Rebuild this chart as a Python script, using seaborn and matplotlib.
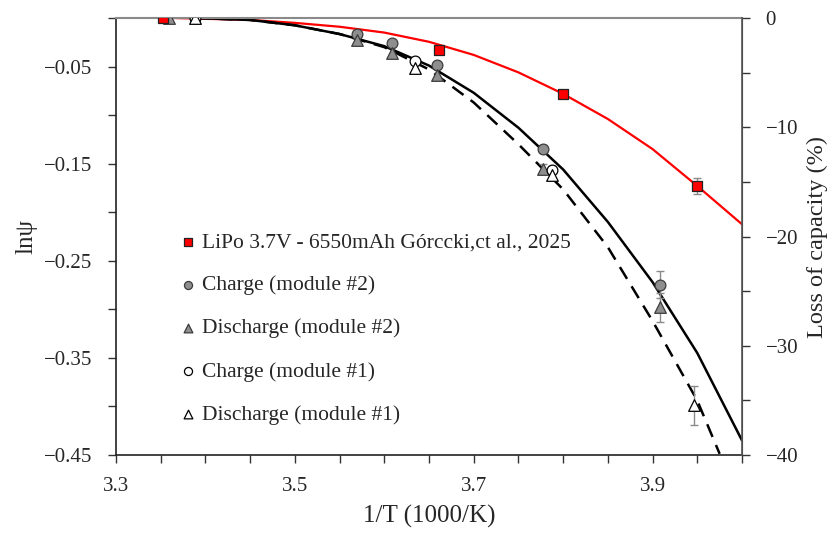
import numpy as np
import pandas as pd
import matplotlib
matplotlib.use("Agg")
import matplotlib.pyplot as plt
import seaborn as sns
from matplotlib.ticker import FixedLocator, FixedFormatter

# ---------------- data ----------------
series_labels = [
    "LiPo 3.7V - 6550mAh Górccki,ct al., 2025",
    "Charge (module #2)",
    "Discharge (module #2)",
    "Charge (module #1)",
    "Discharge (module #1)",
]

lipo_x = [3.353, 3.661, 3.800, 3.950]
lipo_y = [0.0, -0.0333, -0.078, -0.173]
lipo_err = [0.0, 0.0, 0.002, 0.008]

chg2_x = [3.356, 3.569, 3.609, 3.659, 3.778, 3.908]
chg2_y = [0.0, -0.0164, -0.0257, -0.0487, -0.1345, -0.2748]
chg2_err = [0.0, 0.0, 0.0, 0.0, 0.004, 0.014]

dis2_x = [3.359, 3.569, 3.609, 3.659, 3.778, 3.908]
dis2_y = [0.0, -0.023, -0.036, -0.059, -0.155, -0.298]
dis2_err = [0.0, 0.0, 0.0, 0.0, 0.005, 0.015]

chg1_x = [3.388, 3.634, 3.788]
chg1_y = [0.0, -0.0439, -0.156]
chg1_err = [0.0, 0.0, 0.004]

dis1_x = [3.388, 3.634, 3.788, 3.946]
dis1_y = [0.0, -0.0514, -0.162, -0.399]
dis1_err = [0.0, 0.0, 0.005, 0.020]

# fitted curves
fit_solid_x = [3.390, 3.450, 3.500, 3.550, 3.600, 3.650, 3.700, 3.750,
               3.800, 3.850, 3.900, 3.950, 4.000]
fit_solid_y = [0.0, -0.002, -0.0075, -0.0165, -0.029, -0.049, -0.077, -0.113,
               -0.156, -0.210, -0.272, -0.345, -0.435]

fit_dash_x = [3.390, 3.450, 3.500, 3.550, 3.600, 3.650, 3.700, 3.750,
              3.800, 3.850, 3.900, 3.950, 3.975]
fit_dash_y = [0.0, -0.002, -0.0075, -0.0165, -0.030, -0.053, -0.087, -0.130,
              -0.1765, -0.236, -0.312, -0.394, -0.4488]

fit_red_x = [3.3645, 3.450, 3.500, 3.550, 3.600, 3.650, 3.700, 3.750,
             3.800, 3.850, 3.900, 3.950, 4.000]
fit_red_y = [0.0, -0.002, -0.005, -0.009, -0.015, -0.0245, -0.038, -0.056,
             -0.0781, -0.104, -0.135, -0.173, -0.2124]

# axis ticks / labels
x_major = [3.3, 3.5, 3.7, 3.9]
x_major_labels = ["3.3", "3.5", "3.7", "3.9"]
x_minor = [3.35, 3.4, 3.45, 3.55, 3.6, 3.65, 3.75, 3.8, 3.85, 3.95, 4.0]
y_major = [-0.45, -0.35, -0.25, -0.15, -0.05]
y_major_labels = ["\u22120.45", "\u22120.35", "\u22120.25", "\u22120.15", "\u22120.05"]
y_minor = [-0.4, -0.3, -0.2, -0.1, 0.0]
r_major = [-40, -30, -20, -10, 0]
r_major_labels = ["\u221240", "\u221230", "\u221220", "\u221210", "0"]
r_minor = [-35, -25, -15, -5]

# ---------------- style ----------------
sns.set_style("ticks")
plt.rcParams["font.family"] = ["Liberation Serif", "DejaVu Serif"]
plt.rcParams["axes.unicode_minus"] = True

fig = plt.figure(figsize=(8.34, 5.36), dpi=100)
ax = fig.add_axes([0.1391, 0.1511, 0.7506, 0.8153])
ax2 = ax.twinx()

# curves
sns.lineplot(x=fit_red_x, y=fit_red_y, ax=ax, color="#ff0000", linewidth=1.6,
             sort=False, estimator=None, legend=False, zorder=2)
sns.lineplot(x=fit_solid_x, y=fit_solid_y, ax=ax, color="black", linewidth=1.8,
             sort=False, estimator=None, legend=False, zorder=2)
sns.lineplot(x=fit_dash_x, y=fit_dash_y, ax=ax, color="black", linewidth=1.8,
             sort=False, estimator=None, legend=False, zorder=2,
             linestyle=(0, (5.5, 3.5)))

# error bars
for xs, ys, es in [(lipo_x, lipo_y, lipo_err), (chg2_x, chg2_y, chg2_err),
                   (dis2_x, dis2_y, dis2_err), (chg1_x, chg1_y, chg1_err),
                   (dis1_x, dis1_y, dis1_err)]:
    sel = [i for i, e in enumerate(es) if e > 0]
    if sel:
        ax.errorbar([xs[i] for i in sel], [ys[i] for i in sel],
                    yerr=[es[i] for i in sel], fmt="none", ecolor="#8a8a8a",
                    elinewidth=1.0, capsize=3, capthick=1.0, zorder=3)

grey_fill = "#8e8e8e"
grey_edge = "#3c3c3c"
sns.scatterplot(x=chg2_x, y=chg2_y, ax=ax, marker="o", s=60, color=grey_fill,
                edgecolor=grey_edge, linewidth=0.9, label=series_labels[1], zorder=4)
sns.scatterplot(x=dis2_x, y=dis2_y, ax=ax, marker="^", s=70, color=grey_fill,
                edgecolor=grey_edge, linewidth=0.9, label=series_labels[2], zorder=4)
sns.scatterplot(x=chg1_x, y=chg1_y, ax=ax, marker="o", s=60, color="white",
                edgecolor="black", linewidth=0.9, label=series_labels[3], zorder=4)
sns.scatterplot(x=dis1_x, y=dis1_y, ax=ax, marker="^", s=70, color="white",
                edgecolor="black", linewidth=0.9, label=series_labels[4], zorder=4)
sns.scatterplot(x=lipo_x, y=lipo_y, ax=ax, marker="s", s=60, color="#ff0000",
                edgecolor="#222222", linewidth=0.9, label=series_labels[0], zorder=5)

# axes limits and ticks
ax.set_xlim(3.3, 4.0)
ax.set_ylim(-0.45, 0.0)
ax2.set_ylim(-40, 0)

ax.xaxis.set_major_locator(FixedLocator(x_major))
ax.xaxis.set_major_formatter(FixedFormatter(x_major_labels))
ax.xaxis.set_minor_locator(FixedLocator(x_minor))
ax.yaxis.set_major_locator(FixedLocator(y_major))
ax.yaxis.set_major_formatter(FixedFormatter(y_major_labels))
ax.yaxis.set_minor_locator(FixedLocator(y_minor))
ax2.yaxis.set_major_locator(FixedLocator(r_major))
ax2.yaxis.set_major_formatter(FixedFormatter(r_major_labels))
ax2.yaxis.set_minor_locator(FixedLocator(r_minor))

tick_kw = dict(which="both", direction="out", length=6, width=1.0, color="#333333")
ax.tick_params(axis="x", pad=10, labelsize=15, **tick_kw)
ax.tick_params(axis="y", pad=11, labelsize=15, **tick_kw)
ax2.tick_params(axis="y", pad=11, labelsize=15, **tick_kw)
ax.tick_params(top=False, right=False, which="both")

for side in ["left", "bottom"]:
    ax.spines[side].set_color("#222222")
    ax.spines[side].set_linewidth(1.2)
ax.spines["top"].set_color("#8a8a8a")
ax.spines["top"].set_linewidth(1.5)
ax2.spines["top"].set_visible(False)
ax2.spines["right"].set_color("#555555")
ax2.spines["right"].set_linewidth(1.2)
ax2.spines["left"].set_visible(False)
ax2.spines["bottom"].set_visible(False)

ax.set_xlabel("1/T (1000/K)", fontsize=18, labelpad=6)
ax.set_ylabel("ln\u03c8", fontsize=18, labelpad=5)
ax2.set_ylabel("Loss of capacity (%)", fontsize=17.5, labelpad=6)

# legend
handles, labels = ax.get_legend_handles_labels()
order = [labels.index(l) for l in series_labels]
ax.legend([handles[i] for i in order], [labels[i] for i in order],
          loc="upper left", bbox_to_anchor=(0.102, 0.51), frameon=False,
          handlelength=0.8, handletextpad=0.25, labelspacing=1.07,
          markerscale=0.75, borderaxespad=0, borderpad=0, fontsize=15.5)

fig.savefig("out.png", dpi=100)
